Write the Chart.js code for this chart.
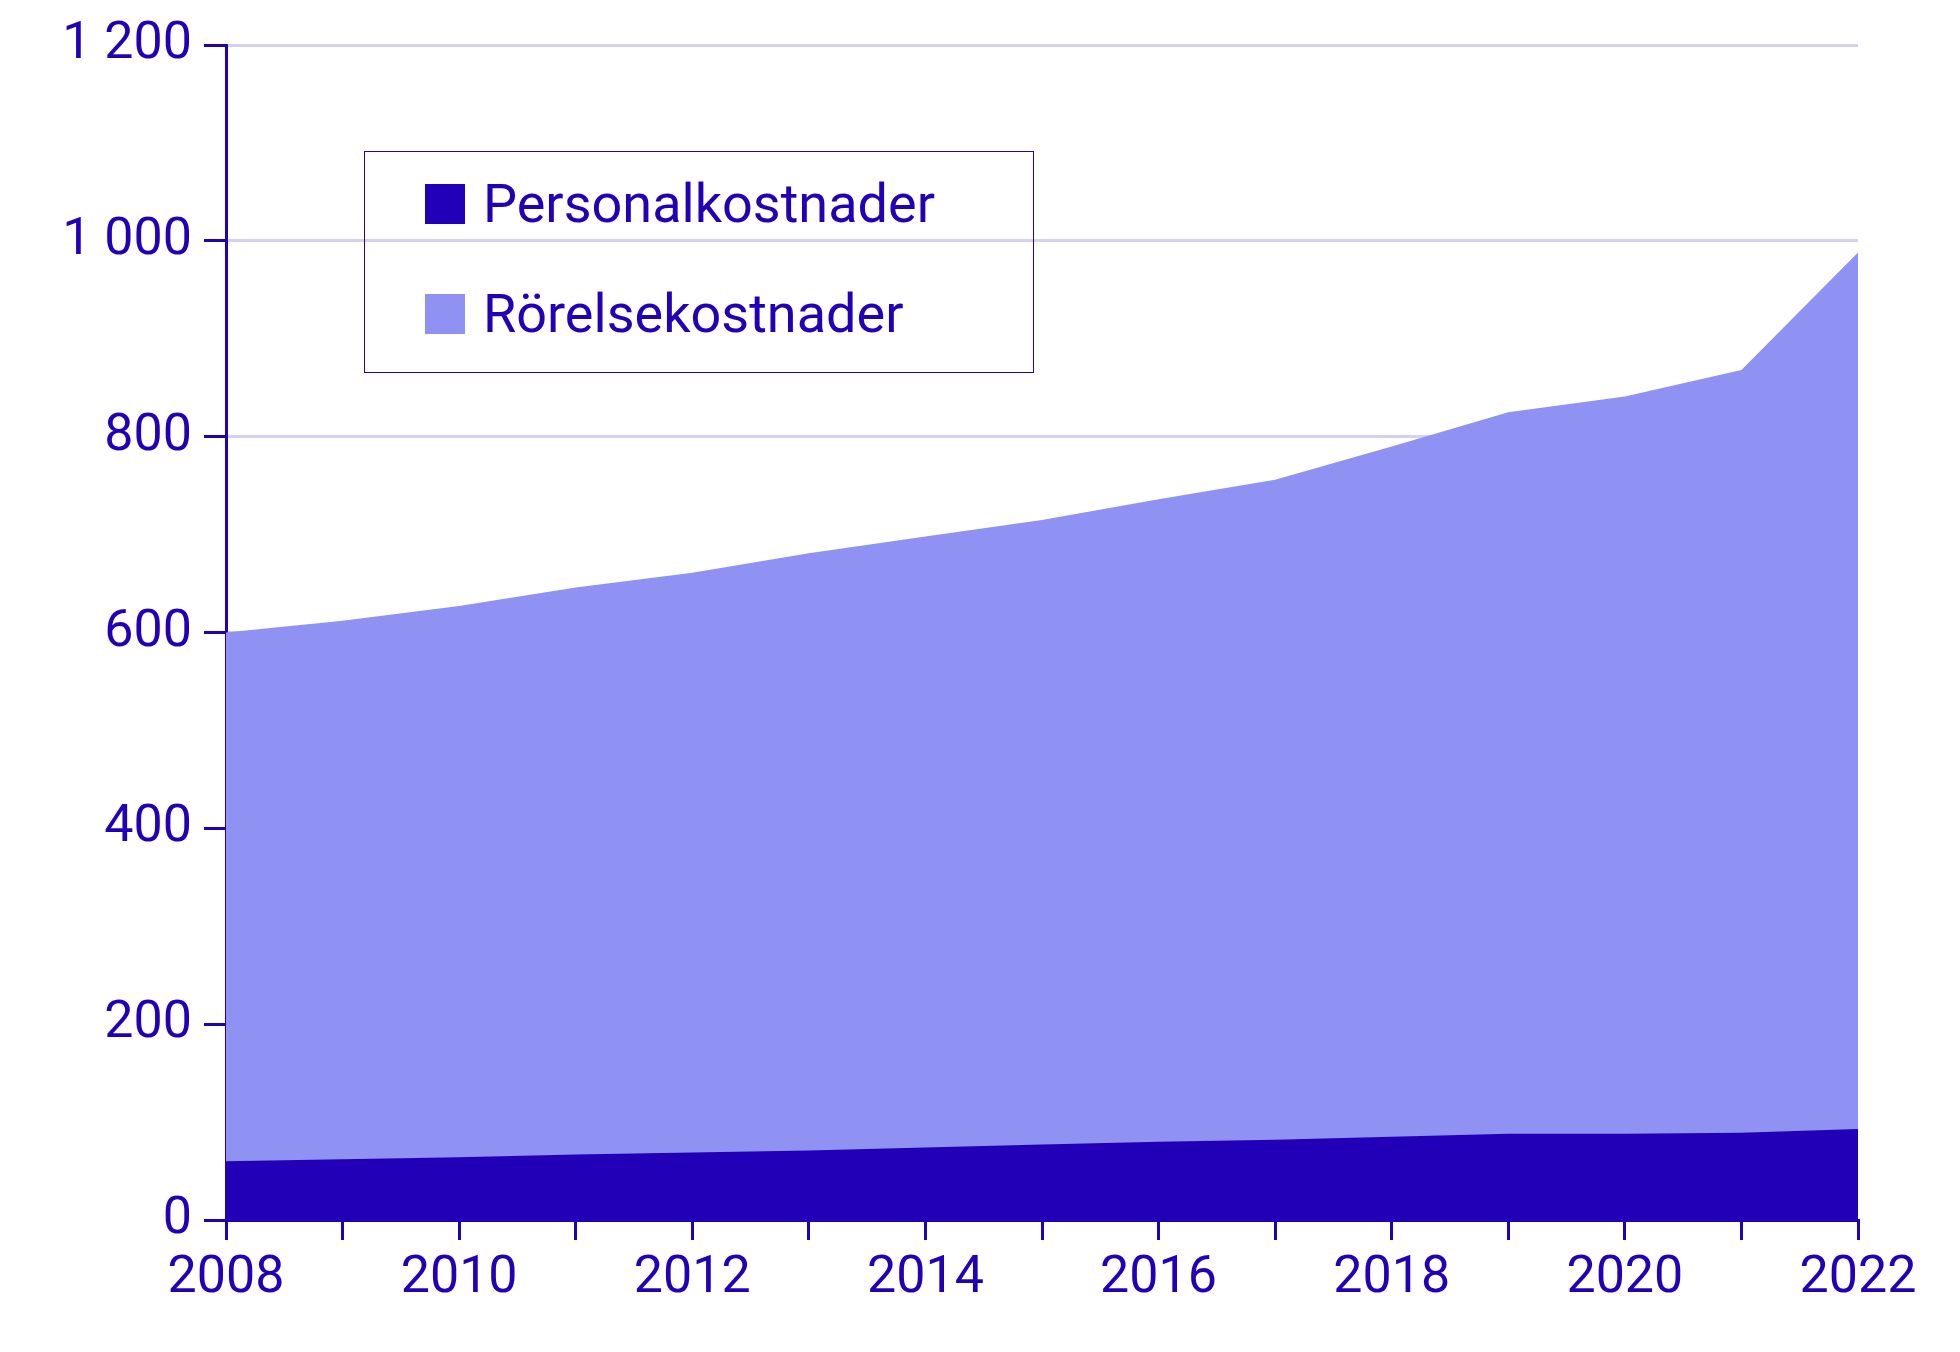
<!DOCTYPE html>
<html><head><meta charset="utf-8">
<script src="https://cdn.jsdelivr.net/npm/chart.js@4"></script>
<style>
html,body{margin:0;padding:0;background:#fff;}
#wrap{position:relative;width:1960px;height:1352px;}
#legend{position:absolute;left:364px;top:151px;width:670px;height:222px;border:1.5px solid #2200b8;box-sizing:border-box;font-family:Roboto,sans-serif;font-size:54px;color:#2200b8;}
.it{position:absolute;left:60px;display:flex;align-items:center;}
.sw{width:40px;height:40px;margin-right:18px;}
</style></head><body>
<div id="wrap"><canvas id="c" width="1960" height="1352"></canvas>
<div id="legend">
<div class="it" style="top:20px"><div class="sw" style="background:#2200b8"></div>Personalkostnader</div>
<div class="it" style="top:130px"><div class="sw" style="background:#8f91f3"></div>Rörelsekostnader</div>
</div></div>
<script>
const years=['2008','2009','2010','2011','2012','2013','2014','2015','2016','2017','2018','2019','2020','2021','2022'];
const personal=[60,62,64,67,69,71,74,77,80,82,85,88,88,89,93];
const rorelse=[600,612,627,646,661,681,698,715,736,756,790,825,841,868,988];
const col='#2200b8';
new Chart(document.getElementById('c'),{
type:'line',
data:{labels:years,datasets:[
{label:'Personalkostnader',data:personal,fill:'origin',backgroundColor:col,borderWidth:0,pointRadius:0,tension:0},
{label:'Rörelsekostnader',data:rorelse,fill:'origin',backgroundColor:'#8f91f3',borderWidth:0,pointRadius:0,tension:0}
]},
options:{responsive:false,animation:false,
layout:{padding:{left:0,right:102,top:45,bottom:0}},
plugins:{legend:{display:false},tooltip:{enabled:false}},
scales:{
x:{offset:false,grid:{drawOnChartArea:false,color:col,tickLength:20,lineWidth:3},border:{color:col,width:3},
 ticks:{autoSkip:false,maxRotation:0,color:col,font:{family:'Roboto',size:52},padding:8,callback:function(v,i){return i%2===0?years[i]:'';}},
 afterFit:s=>{s.height=132;}},
y:{min:0,max:1200,grid:{color:'#d3d0f0',lineWidth:3,tickLength:22,tickColor:col},border:{color:col,width:3},
 ticks:{stepSize:200,color:col,font:{family:'Roboto',size:52},padding:12,callback:v=>v>=1000?String(v).replace(/(\d)(\d{3})$/,'$1 $2'):v},
 afterFit:s=>{s.width=226;}}
}}});
</script></body></html>
